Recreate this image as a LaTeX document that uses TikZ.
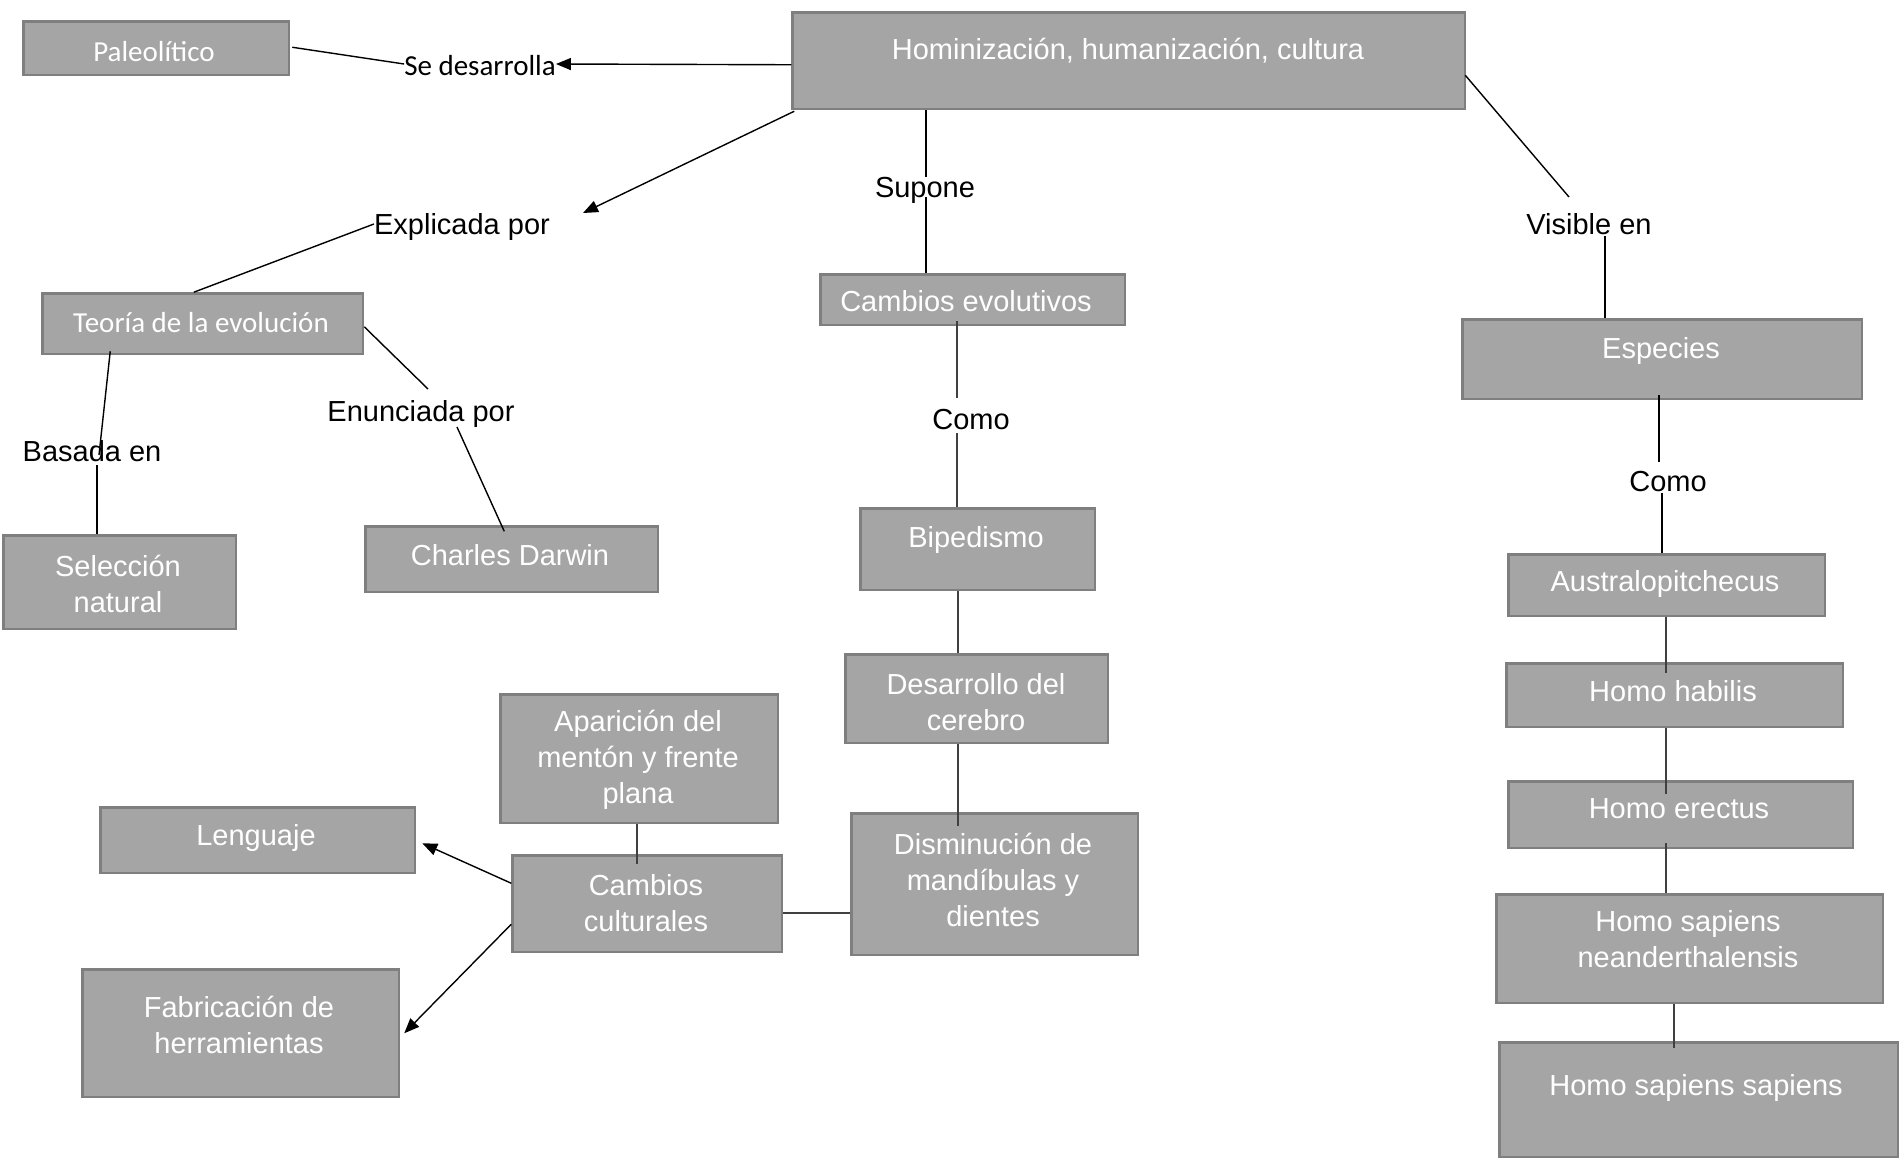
\documentclass[tikz,border=0pt]{standalone}
\usepackage{fontspec}
\setmainfont{Liberation Sans}
\newfontfamily\calibri{Carlito}
\usetikzlibrary{arrows.meta,calc}
\definecolor{boxfill}{HTML}{A5A5A5}
\definecolor{boxborder}{HTML}{7F7F7F}
\definecolor{chain}{HTML}{404040}
\newcommand{\fs}{\fontsize{29}{36}\selectfont}
\newcommand{\mybox}[5]{\node[box, minimum width={(#4-#2-2.5)*1pt}, minimum height={(#5-#3-2.5)*1pt}] (#1) at (#2+1.25,#3+1.25) {};}
\tikzset{
  box/.style={draw=boxborder, fill=boxfill, line width=2.5pt, inner sep=0pt, anchor=north west},
  txt/.style={text=white, align=center, inner sep=0pt, font=\fs, yshift=-2.5pt},
  ctxt/.style={text=white, align=center, inner sep=0pt, font=\calibri\fs, yshift=-1.5pt},
  lab/.style={text=black, inner sep=0pt, font=\fs, yshift=-2.5pt},
  clab/.style={text=black, inner sep=0pt, font=\calibri\fs, yshift=-1.5pt},
  thin/.style={draw=black, line width=1.4pt},
  chainline/.style={draw=chain, line width=2pt},
  arr/.style={draw=black, line width=1.4pt, -{Triangle[length=15pt,width=12pt]}}
}
\begin{document}
\begin{tikzpicture}[x=1pt,y=-1pt]
\useasboundingbox (0,0) rectangle (1901,1159);
% boxes
\mybox{paleo}{21}{19}{289}{75}
\mybox{homin}{790}{10}{1465}{109}
\mybox{teoria}{40}{291}{363}{354}
\mybox{selec}{1}{533}{236}{629}
\mybox{darwin}{363}{524}{658}{592}
\mybox{cambev}{818}{272}{1125}{325}
\mybox{biped}{858}{506}{1095}{590}
\mybox{desar}{843}{652}{1108}{743}
\mybox{dismi}{849}{811}{1138}{955}
\mybox{apar}{498}{692}{778}{823}
\mybox{cambcul}{510}{853}{782}{952}
\mybox{leng}{98}{805}{415}{873}
\mybox{fabr}{80}{967}{399}{1097}
\mybox{espe}{1460}{317}{1862}{399}
\mybox{aus}{1506}{552}{1825}{616}
\mybox{hab}{1504}{661}{1843}{727}
\mybox{ere}{1506}{779}{1853}{848}
\mybox{nea}{1494}{892}{1883}{1003}
\mybox{sap}{1497}{1040}{1898}{1157}
% box texts
\node[ctxt] (tpaleo) at (154,50) {Paleolítico};
\node[txt] (thomin) at (1128,48) {Hominización, humanización, cultura};
\node[ctxt] (tteoria) at (201,321) {Teoría de la evolución};
\node[txt] (tselec) at (118,581) {Selección\\natural};
\node[txt] (tdarwin) at (510,553) {Charles Darwin};
\node[txt] (tcambev) at (966,299) {Cambios evolutivos};
\node[txt] (tbiped) at (976,537) {Bipedismo};
\node[txt] (tdesar) at (976,700) {Desarrollo del\\cerebro};
\node[txt] (tdismi) at (993,877) {Disminución de\\mandíbulas y\\dientes};
\node[txt] (tapar) at (638,757) {Aparición del\\mentón y frente\\plana};
\node[txt] (tcambcul) at (646,901) {Cambios\\culturales};
\node[txt] (tleng) at (256,835) {Lenguaje};
\node[txt] (tfabr) at (239,1022) {Fabricación de\\herramientas};
\node[txt] (tespe) at (1661,348) {Especies};
\node[txt] (taus) at (1665,581) {Australopitchecus};
\node[txt] (thab) at (1673,689) {Homo habilis};
\node[txt] (tere) at (1679,806) {Homo erectus};
\node[txt] (tnea) at (1688,937) {Homo sapiens\\neanderthalensis};
\node[txt] (tsap) at (1696,1085) {Homo sapiens sapiens};
% link labels
\node[clab] (sedes) at (480,64) {Se desarrolla};
\node[lab] (expl) at (462,224) {Explicada por};
\node[lab] (enun) at (421,411) {Enunciada por};
\node[lab] (basada) at (92,449) {Basada en};
\node[lab] (supone) at (925,188) {Supone};
\node[lab] (como1) at (971,417) {Como};
\node[lab] (visible) at (1589,222) {Visible en};
\node[lab] (como2) at (1668,479) {Como};
% label-side end points
\coordinate (explTip) at (583,213);
\coordinate (enunA) at (428,389);
\coordinate (enunB) at (457,427);
\coordinate (basA) at (99,455);
\coordinate (basB) at (97,465);
\coordinate (supA) at (926,177);
\coordinate (supB) at (926,197);
\coordinate (comoA) at (957,398);
\coordinate (comoB) at (957,433);
\coordinate (visA) at (1569,197);
\coordinate (visB) at (1605,236);
\coordinate (como2A) at (1659,462);
\coordinate (como2B) at (1662,493);
\coordinate (xa) at (1666,0);
\coordinate (xb) at (1674,0);
\coordinate (xc) at (957.5,0);
\coordinate (xd) at (637,0);
% connectors
\draw[thin] ($(paleo.north east)+(2,27)$) -- ($(sedes.west)+(0,-1.5)$);
\draw[arr] ($(homin.west)+(0,4)$) -- ($(sedes.east)+(0,-1.5)$);
\draw[arr] ($(homin.south west)+(3,1)$) -- (explTip);
\draw[thin] ($(expl.west)+(0,-2.5)$) -- ($(teoria.north)+(-9,0)$);
\draw[thin] ($(teoria.east)+(0,3)$) -- (enunA);
\draw[thin] (enunB) -- ($(darwin.north west)+(140,6)$);
\draw[thin] ($(teoria.south west)+(69,-4)$) -- (basA);
\draw[thin] (basB) -- (basB |- selec.north);
\draw[thin] (supA |- homin.south) -- (supA);
\draw[thin] (supB) -- (supB |- cambev.north);
\draw[chainline] ($(comoA |- cambev.south)+(0,-5)$) -- (comoA);
\draw[chainline] (comoB) -- (comoB |- biped.north);
\draw[chainline] (xc |- biped.south) -- (xc |- desar.north);
\draw[chainline] (xc |- desar.south) -- ($(xc |- dismi.north)+(0,14)$);
\draw[chainline] ($(cambcul.east)+(0,9.5)$) -- ($(dismi.west)+(0,29)$);
\draw[chainline] (xd |- apar.south) -- ($(xd |- cambcul.north)+(0,10)$);
\draw[arr] ($(cambcul.north west)+(0,29)$) -- ($(leng.east)+(6,3)$);
\draw[arr] ($(cambcul.north west)+(0,70)$) -- ($(fabr.north east)+(4,65)$);
\draw[thin] ($(homin.north east)+(-1,64)$) -- (visA);
\draw[thin] (visB) -- (visB |- espe.north);
\draw[thin] ($(como2A |- espe.south)+(0,-5)$) -- (como2A);
\draw[thin] (como2B) -- (como2B |- aus.north);
\draw[chainline] (xa |- aus.south) -- ($(xa |- hab.north)+(0,11)$);
\draw[chainline] (xa |- hab.south) -- ($(xa |- ere.north)+(0,14)$);
\draw[chainline] ($(xa |- ere.south)+(0,-6)$) -- (xa |- nea.north);
\draw[chainline] (xb |- nea.south) -- ($(xb |- sap.north)+(0,7)$);
\end{tikzpicture}
\end{document}
